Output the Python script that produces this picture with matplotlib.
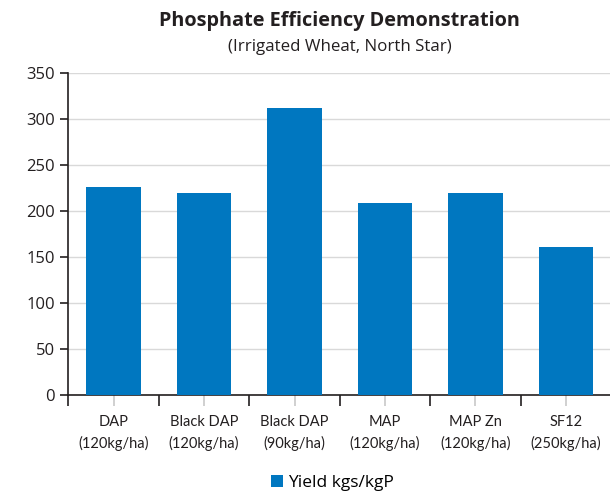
import numpy as np
import matplotlib.pyplot as plt
from matplotlib.patches import Patch

categories = ['DAP\n(120kg/ha)', 'Black DAP\n(120kg/ha)', 'Black DAP\n(90kg/ha)',
              'MAP\n(120kg/ha)', 'MAP Zn\n(120kg/ha)', 'SF12\n(250kg/ha)']
yield_kgs = [226, 220, 312, 209, 220, 161]
series_name = 'Yield kgs/kgP'

BLUE = '#0077C0'

fig = plt.figure(figsize=(6.1, 4.94), dpi=100)
ax = fig.add_axes([0.112, 0.200, 0.890, 0.652])

x = np.arange(len(categories))
ax.bar(x, yield_kgs, width=0.6, color=BLUE, zorder=3)

ax.set_xlim(-0.5, len(categories) - 0.5)
ax.set_ylim(0, 350)
ax.set_yticks(np.arange(0, 351, 50))
ax.yaxis.grid(True, color='#d9d9d9', linewidth=1, zorder=0)
ax.tick_params(axis='y', labelsize=12, length=6, width=1.2, colors='#231f20')
for t in ax.get_yticklabels():
    t.set_family('Open Sans')

# black ticks at category boundaries, light gray ticks under centers
ax.set_xticks(np.arange(-0.5, len(categories)), minor=False)
ax.set_xticklabels([])
ax.set_xticks(x, minor=True)
ax.set_xticklabels(categories, minor=True, fontsize=10.5, family='Lato',
                   color='#231f20', linespacing=1.6)
ax.tick_params(axis='x', which='major', length=8, width=1.2, color='#231f20')
ax.tick_params(axis='x', which='minor', length=8, width=1.2, color='#c8c8c8', pad=6)

for s in ['top', 'right']:
    ax.spines[s].set_visible(False)
for s in ['left', 'bottom']:
    ax.spines[s].set_linewidth(1.2)
    ax.spines[s].set_color('#231f20')

fig.text(0.557, 0.958, 'Phosphate Efficiency Demonstration', ha='center', va='center',
         fontsize=14.3, fontweight='bold', family='Open Sans', color='#231f20')
fig.text(0.557, 0.905, '(Irrigated Wheat, North Star)', ha='center', va='center',
         fontsize=12.2, family='Open Sans', color='#231f20')

handle = Patch(facecolor=BLUE, label=series_name)
fig.legend(handles=[handle], loc='center', bbox_to_anchor=(0.545, 0.022), frameon=False,
           handlelength=0.65, handleheight=0.65, handletextpad=0.3,
           prop={'family': 'Open Sans', 'size': 12.5})

fig.savefig('out.png', dpi=100)
